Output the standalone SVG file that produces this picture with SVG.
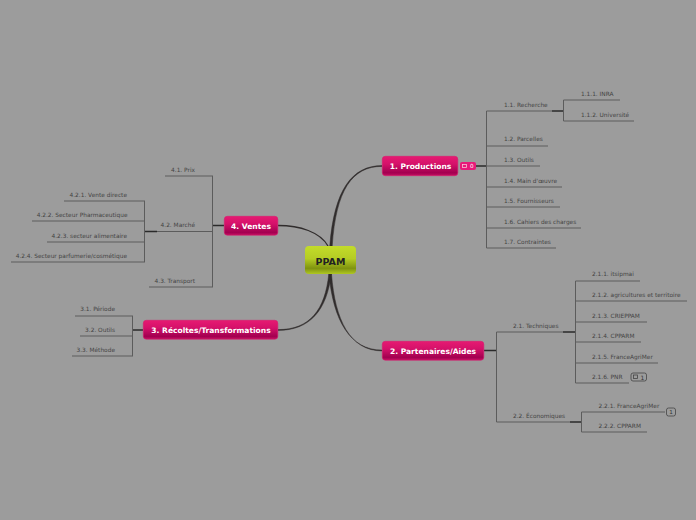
<svg xmlns="http://www.w3.org/2000/svg" width="696" height="520" viewBox="0 0 696 520">
<style>
text{font-family:"DejaVu Sans",Verdana,sans-serif}
.t{font-size:5.85px;fill:#444}
.e{text-anchor:end}
.m{font-size:7.55px;font-weight:bold;fill:#fff;text-anchor:middle}
.c{fill:none;stroke:#302c2c;stroke-width:1.3}
.f{fill:#302c2c}
.l{fill:none;stroke:#5c5c5c;stroke-width:1}
.k{fill:none;stroke:#2a2a2a;stroke-width:1.4}
.n{fill:url(#pink);stroke:#d81b6e;stroke-width:.6}
.b{fill:none;stroke:#444;stroke-width:.8}
</style>
<defs>
<linearGradient id="pink" x1="0" y1="0" x2="0" y2="1"><stop offset="0" stop-color="#e61a72"/><stop offset=".4" stop-color="#d5116a"/><stop offset=".85" stop-color="#a30050"/><stop offset="1" stop-color="#c40f62"/></linearGradient>
<linearGradient id="green" x1="0" y1="0" x2="0" y2="1"><stop offset="0" stop-color="#c3dc2a"/><stop offset=".45" stop-color="#b5cc24"/><stop offset=".8" stop-color="#7f930f"/><stop offset="1" stop-color="#b0c822"/></linearGradient>
</defs>
<rect width="696" height="520" fill="#9c9c9c"/>
<g id="connectors">
<path class="f" d="M382 165.600C352 165.600 334 190 329.800 246H332.200C336 190 352 166.400 382 166.400Z" stroke="#302c2c" stroke-width=".5"/>
<path class="c" d="M278 225.500C300 225.500 320 232 328 246"/>
<path class="f" d="M329 274C333 320 350 350.100 382 350.100V350.900C350 350.900 335 320 331.500 274Z" stroke="#302c2c" stroke-width=".5"/>
<path class="f" d="M328.800 274C325 310 310 329.600 278 329.600V330.400C310 330.400 327 310 331.200 274Z" stroke="#302c2c" stroke-width=".5"/>
<path class="k" d="M476 166H487M552 111H563M563 332H575M570 422H581M144 231.500H157M213 225.500H224M133 330H143M484 350.500H496"/>
<path class="l" d="M486.500 111V248M486.500 111H552M486.500 146H548M486.500 166H540M486.500 187H562M486.500 207H560M486.500 228H581M486.500 248H556"/>
<path class="l" d="M563.500 100V121M563.500 100H620M563.500 121H634"/>
<path class="l" d="M496.500 332V422M496.500 332H563M496.500 422H570"/>
<path class="l" d="M575.500 281V383M575.500 281H640M575.500 301H687M575.500 322H647M575.500 342H641M575.500 363H658M575.500 383H629"/>
<path class="l" d="M581.500 412V432M581.500 412H665M581.500 432H647"/>
<path class="l" d="M212.500 176V287M165 176H213M157 231.500H213M149 287H213"/>
<path class="l" d="M144.500 201V262M64 201H145M32 221H145M47 242H145M11 262H145"/>
<path class="l" d="M132.500 316V356M75 316H133M80 336H133M72 356H133"/>
</g>
<g id="node-ppam"><rect x="305" y="246" width="51" height="28" rx="4" fill="url(#green)"/><text x="330.500" y="264.500" font-size="9.500" font-weight="bold" fill="#222" text-anchor="middle">PPAM</text></g>
<g id="node-1"><rect class="n" x="382.300" y="156.300" width="75.500" height="19.400" rx="3"/><text class="m" x="420.500" y="169">1. Productions</text>
<rect x="460" y="162" width="16" height="8" rx="2" fill="#e8197a"/><rect class="b" style="stroke:#f8c0d8" x="462.500" y="164.500" width="4" height="3"/><text x="470" y="168" font-size="5.600" fill="#fff">0</text></g>
<g id="node-1-1"><text class="t" x="504" y="107">1.1. Recherche</text></g>
<g id="node-1-1-1"><text class="t" x="581" y="96">1.1.1. INRA</text></g>
<g id="node-1-1-2"><text class="t" x="581" y="117">1.1.2. Université</text></g>
<g id="node-1-2"><text class="t" x="504" y="141">1.2. Parcelles</text></g>
<g id="node-1-3"><text class="t" x="504" y="162">1.3. Outils</text></g>
<g id="node-1-4"><text class="t" x="504" y="183">1.4. Main d'œuvre</text></g>
<g id="node-1-5"><text class="t" x="504" y="203">1.5. Fournisseurs</text></g>
<g id="node-1-6"><text class="t" x="504" y="224">1.6. Cahiers des charges</text></g>
<g id="node-1-7"><text class="t" x="504" y="244">1.7. Contraintes</text></g>
<g id="node-2"><rect class="n" x="382.300" y="341.300" width="101.500" height="18.900" rx="3"/><text class="m" x="433" y="353.500">2. Partenaires/Aides</text></g>
<g id="node-2-1"><text class="t" x="513" y="328">2.1. Techniques</text></g>
<g id="node-2-1-1"><text class="t" x="592" y="276">2.1.1. itsipmai</text></g>
<g id="node-2-1-2"><text class="t" x="592" y="297">2.1.2. agricultures et territoire</text></g>
<g id="node-2-1-3"><text class="t" x="592" y="318">2.1.3. CRIEPPAM</text></g>
<g id="node-2-1-4"><text class="t" x="592" y="338">2.1.4. CPPARM</text></g>
<g id="node-2-1-5"><text class="t" x="592" y="359">2.1.5. FranceAgriMer</text></g>
<g id="node-2-1-6"><text class="t" x="592" y="379">2.1.6. PNR</text><rect class="b" x="631" y="373" width="15.500" height="8" rx="2"/><rect class="b" x="633.500" y="375" width="4" height="3.500"/><text x="640.500" y="379.500" font-size="6" fill="#333">1</text></g>
<g id="node-2-2"><text class="t" x="513" y="418">2.2. Économiques</text></g>
<g id="node-2-2-1"><text class="t" x="598.500" y="408">2.2.1. FranceAgriMer</text><rect class="b" x="666.500" y="408" width="9" height="8" rx="2"/><text x="669.300" y="414" font-size="5.600" fill="#333">1</text></g>
<g id="node-2-2-2"><text class="t" x="598.500" y="428">2.2.2. CPPARM</text></g>
<g id="node-3"><rect class="n" x="143.300" y="320.300" width="134.500" height="18.900" rx="3"/><text class="m" x="211" y="333">3. Récoltes/Transformations</text></g>
<g id="node-3-1"><text class="t e" x="115" y="311">3.1. Période</text></g>
<g id="node-3-2"><text class="t e" x="115" y="332">3.2. Outils</text></g>
<g id="node-3-3"><text class="t e" x="115" y="352">3.3. Méthode</text></g>
<g id="node-4"><rect class="n" x="224.300" y="216.300" width="53.500" height="18.900" rx="3"/><text class="m" x="251" y="228.500">4. Ventes</text></g>
<g id="node-4-1"><text class="t e" x="195" y="172">4.1. Prix</text></g>
<g id="node-4-2"><text class="t e" x="195" y="227">4.2. Marché</text></g>
<g id="node-4-2-1"><text class="t e" x="127" y="197">4.2.1. Vente directe</text></g>
<g id="node-4-2-2"><text class="t e" x="127.500" y="217">4.2.2. Secteur Pharmaceutique</text></g>
<g id="node-4-2-3"><text class="t e" x="127" y="238">4.2.3. secteur alimentaire</text></g>
<g id="node-4-2-4"><text class="t e" x="127" y="258">4.2.4. Secteur parfumerie/cosmétique</text></g>
<g id="node-4-3"><text class="t e" x="195" y="283">4.3. Transport</text></g>
</svg>
